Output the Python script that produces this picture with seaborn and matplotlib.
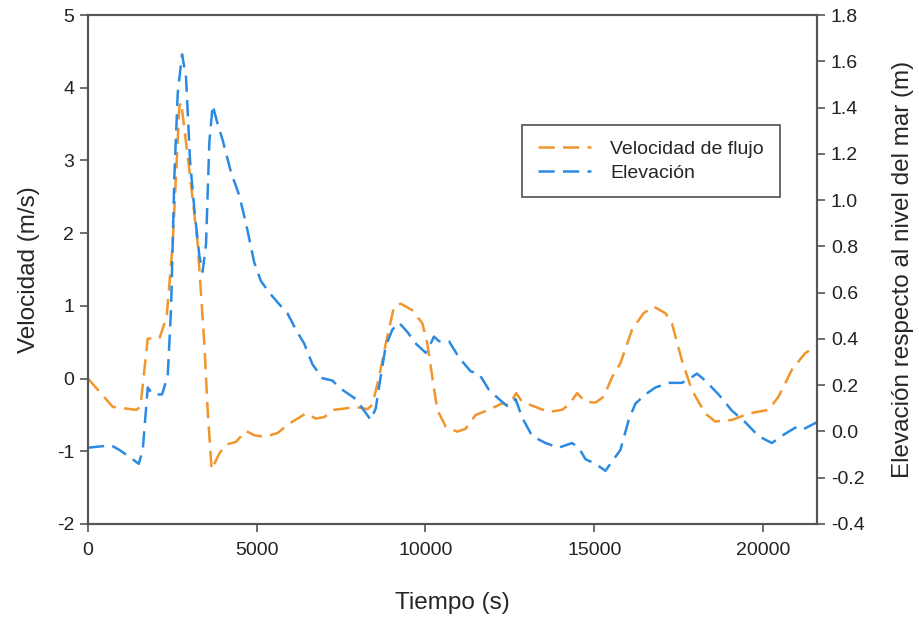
import matplotlib
matplotlib.use("Agg")
import matplotlib.pyplot as plt
import seaborn as sns
import pandas as pd

# ---- data ----
t_vel = [0, 734, 1426, 1553, 1770, 2115, 2331, 2510, 2707, 2760, 3003, 3249, 3447, 3545, 3663,
         3891, 4088, 4384, 4680, 4926, 5222, 5616, 5962, 6456, 6751, 6997, 7293, 7639, 7935,
         8279, 8426, 8624, 8822, 9068, 9266, 9610, 9906, 10054, 10202, 10350, 10598, 10941,
         11189, 11485, 11879, 12272, 12470, 12687, 12864, 13259, 13654, 14047, 14246, 14492,
         14740, 15036, 15281, 15527, 15775, 16118, 16464, 16760, 17107, 17302, 17598, 17893,
         18289, 18585, 19078, 19571, 20163, 20459, 20853, 21249, 21600]
velocidad = [0.0, -0.39, -0.43, -0.39, 0.55, 0.55, 0.85, 1.86, 3.74, 3.8, 2.87, 1.86, 0.48, -0.43, -1.25,
             -1.03, -0.91, -0.87, -0.72, -0.78, -0.80, -0.75, -0.62, -0.48, -0.55, -0.53, -0.43, -0.41, -0.39,
             -0.42, -0.36, 0.02, 0.48, 0.99, 1.03, 0.94, 0.76, 0.48, 0.02, -0.43, -0.66, -0.73,
             -0.69, -0.50, -0.43, -0.34, -0.37, -0.20, -0.32, -0.39, -0.46, -0.43, -0.36, -0.20,
             -0.32, -0.33, -0.25, 0.02, 0.21, 0.67, 0.90, 0.99, 0.90, 0.76, 0.25, -0.16,
             -0.48, -0.59, -0.57, -0.48, -0.43, -0.25, 0.12, 0.35, 0.45]

t_elev = [0, 686, 932, 1228, 1504, 1622, 1770, 1918, 2194, 2362, 2461, 2559, 2658, 2787, 2905,
          3024, 3151, 3299, 3396, 3497, 3595, 3693, 3840, 3988, 4237, 4482, 4680, 4926, 5124,
          5370, 5666, 5912, 6160, 6405, 6651, 6947, 7243, 7441, 7737, 7935, 8180, 8378, 8527,
          8675, 8822, 9018, 9216, 9462, 9710, 10006, 10154, 10252, 10399, 10695, 10991, 11337,
          11583, 11879, 12175, 12420, 12669, 12864, 13160, 13556, 13950, 14343, 14541, 14740,
          15036, 15331, 15527, 15775, 16021, 16219, 16515, 16811, 17204, 17598, 17846, 18042,
          18289, 18683, 19078, 19473, 19867, 20261, 20656, 21001, 21198, 21600]
elevacion = [-0.07, -0.06, -0.08, -0.11, -0.14, -0.08, 0.19, 0.16, 0.16, 0.24, 0.53, 1.10, 1.46, 1.63, 1.53,
             1.17, 0.96, 0.76, 0.69, 0.81, 1.25, 1.41, 1.33, 1.26, 1.12, 1.02, 0.90, 0.73, 0.65,
             0.60, 0.55, 0.51, 0.44, 0.38, 0.29, 0.23, 0.22, 0.19, 0.16, 0.14, 0.09, 0.05, 0.10,
             0.24, 0.37, 0.44, 0.47, 0.43, 0.38, 0.34, 0.38, 0.41, 0.39, 0.39, 0.32, 0.26,
             0.25, 0.18, 0.14, 0.11, 0.14, 0.06, -0.02, -0.05, -0.07, -0.05, -0.07, -0.12,
             -0.14, -0.17, -0.13, -0.08, 0.05, 0.12, 0.16, 0.19, 0.21, 0.21, 0.23, 0.25,
             0.22, 0.16, 0.09, 0.04, -0.02, -0.05, -0.01, 0.02, 0.01, 0.04]

x_ticks = [0, 5000, 10000, 15000, 20000]
y_left_ticks = [-2, -1, 0, 1, 2, 3, 4, 5]
y_right_ticks = [-0.4, -0.2, 0.0, 0.2, 0.4, 0.6, 0.8, 1.0, 1.2, 1.4, 1.6, 1.8]

df_v = pd.DataFrame({"t": t_vel, "v": velocidad})
df_e = pd.DataFrame({"t": t_elev, "e": elevacion})

sns.set_style("ticks")
plt.rcParams["font.family"] = ["Liberation Sans", "DejaVu Sans"]
plt.rcParams["axes.unicode_minus"] = False

ORANGE = "#f0962c"
BLUE = "#2b8be2"
SPINE = "#555555"

fig = plt.figure(figsize=(9.2, 6.2), dpi=100)
ax = fig.add_axes([88 / 920, 1 - 524 / 620, (817 - 88) / 920, (524 - 15) / 620])
ax2 = ax.twinx()

sns.lineplot(data=df_v, x="t", y="v", ax=ax, color=ORANGE, lw=1.8,
             dashes=False, label="Velocidad de flujo", legend=False)
sns.lineplot(data=df_e, x="t", y="e", ax=ax2, color=BLUE, lw=1.8,
             dashes=False, label="Elevación", legend=False)
for a in (ax, ax2):
    for ln in a.get_lines():
        ln.set_dashes([6.5, 3.3])

ax.set_xlim(0, 21600)
ax.set_ylim(-2, 5)
ax2.set_ylim(-0.4, 1.8)
ax.set_xticks(x_ticks)
ax.set_yticks(y_left_ticks)
ax2.set_yticks(y_right_ticks)
ax2.set_yticklabels([f"{v:.1f}" for v in y_right_ticks])

ax.set_xlabel("Tiempo (s)", fontsize=17.5, labelpad=24)
ax.set_ylabel("Velocidad (m/s)", fontsize=17.5, labelpad=12)
ax2.set_ylabel("Elevación respecto al nivel del mar (m)", fontsize=17.5, labelpad=20)

for a in (ax, ax2):
    for s in a.spines.values():
        s.set_color(SPINE)
        s.set_linewidth(1.5)
    a.tick_params(colors="#222222", labelsize=14, length=6, width=1.2, color=SPINE)
ax.tick_params(axis="x", pad=7)
ax.tick_params(axis="y", pad=4)
ax2.tick_params(axis="y", pad=4)
ax.grid(False)
ax2.grid(False)

h1, l1 = ax.get_legend_handles_labels()
h2, l2 = ax2.get_legend_handles_labels()
leg = ax2.legend(h1 + h2, l1 + l2, loc="upper left",
                 bbox_to_anchor=((522 - 88) / 729, 1 - (125 - 15) / 509),
                 fontsize=14, frameon=True, fancybox=False, edgecolor="#222222",
                 handlelength=2.75, borderpad=0.8, labelspacing=0.3, handletextpad=1.0,
                 borderaxespad=0)
leg.get_frame().set_linewidth(1.2)

fig.savefig("out.png", dpi=100)
